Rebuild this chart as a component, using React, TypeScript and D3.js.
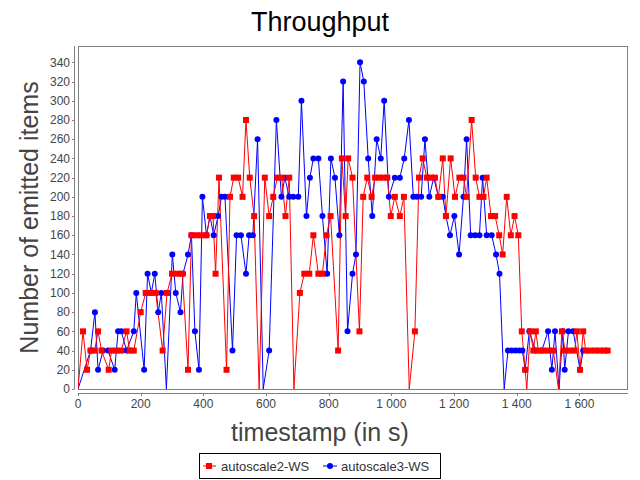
import React from "react";
import * as d3 from "d3";

const redT = [0,16,29,40,53,64,75,98,107,122,138,155,165,178,200,216,232,248,270,284,300,318,333,351,362,378,394,410,421,431,439,450,474,485,497,511,525,536,548,562,578,596,610,623,636,650,662,674,689,708,722,738,751,767,780,793,806,830,842,854,862,876,898,910,923,937,948,961,974,987,998,1011,1027,1040,1057,1075,1088,1100,1113,1125,1139,1150,1164,1174,1189,1203,1217,1230,1240,1256,1269,1281,1294,1304,1318,1331,1344,1355,1368,1381,1393,1405,1416,1427,1432,1443,1453,1461,1469,1485,1501,1517,1533,1544,1554,1570,1585,1592,1602,1612,1620,1635,1650,1665,1680,1690];
const redV = [0,60,20,40,40,60,40,20,40,40,40,60,40,40,80,100,100,100,40,100,120,120,120,20,160,160,160,160,180,180,120,220,20,200,220,220,200,280,220,180,0,220,180,200,220,220,180,220,0,100,120,120,160,120,120,160,180,40,240,180,240,220,60,200,220,200,220,220,220,220,180,200,180,200,0,60,220,240,220,220,220,200,240,180,240,200,220,220,200,280,220,200,200,220,180,180,160,140,200,160,180,160,60,20,0,60,40,60,40,40,40,40,0,60,40,40,40,60,20,60,40,40,40,40,40,40];

const blueT = [0,40,54,64,80,96,117,128,138,155,178,186,211,222,234,245,256,266,282,301,312,327,335,351,362,373,386,397,410,421,433,447,458,469,493,506,520,536,546,558,573,591,610,633,649,660,674,687,703,713,729,740,751,767,780,795,807,820,834,846,860,876,887,900,912,926,939,953,966,977,992,1011,1027,1041,1056,1070,1081,1095,1107,1121,1135,1150,1164,1174,1187,1201,1216,1230,1240,1253,1267,1281,1291,1304,1320,1334,1345,1360,1372,1384,1396,1408,1418,1427,1440,1460,1480,1500,1512,1522,1535,1547,1553,1565,1580,1602,1612];
const blueV = [0,40,80,20,40,40,20,60,60,40,60,100,20,120,100,120,80,100,0,140,100,80,120,140,160,60,20,200,160,180,160,180,200,200,40,160,160,120,160,160,260,0,40,280,200,220,200,200,200,300,180,220,240,240,180,120,240,220,160,320,60,120,140,340,320,240,180,260,240,300,200,220,220,240,280,200,200,200,260,200,220,200,200,180,160,180,140,200,260,160,160,160,220,160,160,140,120,0,40,40,40,40,40,20,60,40,40,60,20,60,0,60,20,60,60,20,40];

const xTicks = [0,200,400,600,800,1000,1200,1400,1600];
const yTicks = [0,20,40,60,80,100,120,140,160,180,200,220,240,260,280,300,320,340];
const seriesNames = ["autoscale2-WS", "autoscale3-WS"];

const FONT = "'Liberation Sans', Arial, sans-serif";

export default function App() {
  const left = 78, right = 628, top = 46, bottom = 389;
  const x = d3.scaleLinear().domain([0, 1755]).range([left, right]);
  const y = d3.scaleLinear().domain([0, 357]).range([bottom, top]);
  const loc = d3.formatLocale({ decimal: ".", thousands: " ", grouping: [3], currency: ["", ""] });
  const fmt = loc.format(",d");

  const red = redT.map((t, i) => [t, redV[i]] as [number, number]);
  const blue = blueT.map((t, i) => [t, blueV[i]] as [number, number]);
  const line = d3.line<[number, number]>().x(d => x(d[0])).y(d => y(d[1]));

  const axisX = left - 4;
  const axisY = bottom + 4;

  return (
    <div style={{ position: "absolute", left: 0, top: 0 }}>
      <svg width={640} height={480} style={{ display: "block", background: "#fff" }} fontFamily={FONT}>
        <defs>
          <clipPath id="plotclip">
            <rect x={left} y={top} width={right - left} height={bottom - top} />
          </clipPath>
        </defs>
        <rect x={0} y={0} width={640} height={480} fill="#fff" />
        <text x={320} y={31} textAnchor="middle" fontSize={27} fill="#000">Throughput</text>
        <rect x={left + 0.5} y={top + 0.5} width={right - left - 1} height={bottom - top} fill="#fff" stroke="#808080" strokeWidth={1} />
        {/* y axis */}
        <line x1={axisX + 0.5} x2={axisX + 0.5} y1={top} y2={bottom} stroke="#808080" />
        {yTicks.map(v => (
          <g key={"y" + v}>
            <line x1={axisX - 2} x2={axisX + 0.5} y1={Math.round(y(v)) + 0.5} y2={Math.round(y(v)) + 0.5} stroke="#808080" />
            <text x={axisX - 4} y={y(v)} dy="0.35em" textAnchor="end" fontSize={12} fill="#444">{fmt(v)}</text>
          </g>
        ))}
        {/* x axis */}
        <line x1={left} x2={right} y1={axisY + 0.5} y2={axisY + 0.5} stroke="#808080" />
        {xTicks.map(v => (
          <g key={"x" + v}>
            <line x1={Math.round(x(v)) + 0.5} x2={Math.round(x(v)) + 0.5} y1={axisY} y2={axisY + 3} stroke="#808080" />
            <text x={x(v)} y={axisY + 15} textAnchor="middle" fontSize={12} fill="#444">{fmt(v)}</text>
          </g>
        ))}
        <text x={320} y={441} textAnchor="middle" fontSize={25} fill="#444">timestamp (in s)</text>
        <text transform={`translate(38,${(top + bottom) / 2}) rotate(-90)`} textAnchor="middle" fontSize={25} fill="#444">Number of emitted items</text>

        <g clipPath="url(#plotclip)">
          <path d={line(blue) || ""} fill="none" stroke="#0000ff" strokeWidth={1} />
          <path d={line(red) || ""} fill="none" stroke="#ff0000" strokeWidth={1} />
          {blue.filter(d => d[1] > 0).map((d, i) => (
            <circle key={"b" + i} cx={x(d[0])} cy={y(d[1])} r={3} fill="#0000ff" />
          ))}
          {red.filter(d => d[1] > 0).map((d, i) => (
            <rect key={"r" + i} x={x(d[0]) - 3} y={y(d[1]) - 3} width={6} height={6} fill="#ff0000" />
          ))}
        </g>

        {/* legend */}
        <rect x={199.5} y={453.5} width={241} height={25} fill="#fff" stroke="#000" />
        <line x1={203} x2={216} y1={466} y2={466} stroke="#ff0000" />
        <rect x={206} y={463} width={6} height={6} fill="#ff0000" />
        <text x={221} y={470.5} fontSize={13} fill="#333">{seriesNames[0]}</text>
        <line x1={323} x2={337} y1={466} y2={466} stroke="#0000ff" />
        <circle cx={330} cy={466} r={3} fill="#0000ff" />
        <text x={341} y={470.5} fontSize={13} fill="#333">{seriesNames[1]}</text>
      </svg>
    </div>
  );
}
